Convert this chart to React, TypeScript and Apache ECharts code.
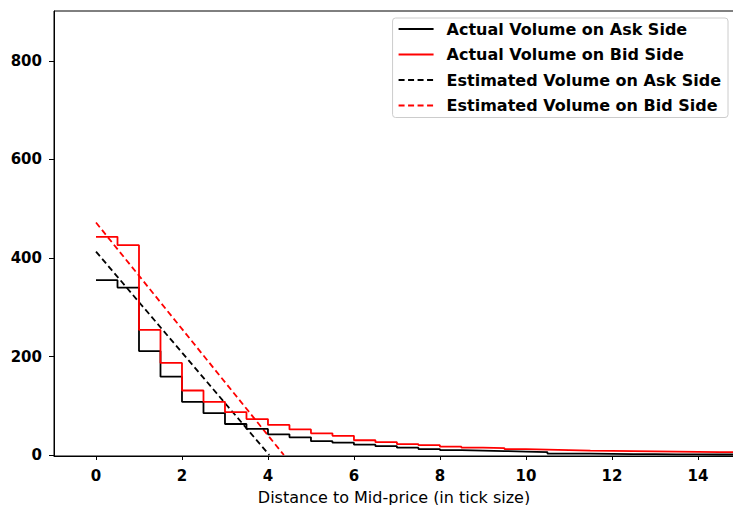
import React, { useEffect, useRef } from "react";
import * as echarts from "echarts";

const distances = [0, 0.5, 1, 1.5, 2, 2.5, 3, 3.5, 4, 4.5, 5, 5.5, 6, 6.5, 7, 7.5, 8, 8.5, 9, 9.5, 10, 10.5, 11, 11.5, 12, 12.5, 13, 13.5, 14, 14.5, 15];
const askActual = [355, 340, 211, 159, 108, 85, 63, 53, 42, 36, 28, 25, 21, 18, 15, 12, 10, 9, 8, 7, 6, 3, 3, 2.5, 2, 2, 1.5, 1.5, 1, 1, 1];
const bidActual = [443, 426, 254, 187, 131, 108, 87, 73, 61, 52, 44, 39, 30, 26, 22, 20, 17, 15, 14, 12, 11, 10, 9, 8.5, 8, 7.5, 7, 6.5, 6, 5.5, 5];
const askEstX = [0, 4.03];
const askEst = [413, 0];
const bidEstX = [0, 4.37];
const bidEst = [472, 0];
const xTicks = [0, 2, 4, 6, 8, 10, 12, 14];
const yTicks = [0, 200, 400, 600, 800];

const seriesNames = [
  "Actual Volume on Ask Side",
  "Actual Volume on Bid Side",
  "Estimated Volume on Ask Side",
  "Estimated Volume on Bid Side",
];

const FONT = "DejaVu Sans";

export default function App() {
  const ref = useRef<HTMLDivElement>(null);
  useEffect(() => {
    document.body.style.margin = "0";
    const chart = echarts.init(ref.current!, null, { renderer: "svg" });
    const pair = (xs: number[], ys: number[]) => xs.map((x, i) => [x, ys[i]]);
    chart.setOption({
      animation: false,
      backgroundColor: "#fff",
      grid: {
        left: 54,
        right: -1,
        top: 11,
        bottom: 49,
        show: true,
        borderColor: "#000",
        borderWidth: 1,
        backgroundColor: "transparent",
        containLabel: false,
        outerBoundsMode: "none",
      },
      xAxis: {
        type: "value",
        min: -0.977,
        max: 14.84,
        name: "Distance to Mid-price (in tick size)",
        nameLocation: "middle",
        nameGap: 33,
        nameTextStyle: { fontFamily: FONT, fontSize: 16, color: "#000" },
        axisLine: { show: true, onZero: false, lineStyle: { color: "#000", width: 1 } },
        axisTick: { show: true, inside: false, length: 4, lineStyle: { color: "#000" }, customValues: xTicks },
        axisLabel: {
          customValues: xTicks,
          fontFamily: FONT,
          fontWeight: "bold",
          fontSize: 15,
          color: "#000",
          margin: 12,
        },
        splitLine: { show: false },
      },
      yAxis: {
        type: "value",
        min: -2,
        max: 901.5,
        axisLine: { show: true, onZero: false, lineStyle: { color: "#000", width: 1 } },
        axisTick: { show: true, inside: false, length: 5, lineStyle: { color: "#000" }, customValues: yTicks },
        axisLabel: {
          customValues: yTicks,
          fontFamily: FONT,
          fontWeight: "bold",
          fontSize: 15,
          color: "#000",
          margin: 12,
        },
        splitLine: { show: false },
      },
      legend: {
        orient: "vertical",
        right: 5,
        top: 18,
        data: seriesNames,
        backgroundColor: "#fff",
        borderColor: "#ccc",
        borderWidth: 1,
        borderRadius: 3,
        padding: [3, 7, 4, 5],
        itemWidth: 35,
        itemHeight: 14,
        itemGap: 9.5,
        itemStyle: { opacity: 0 },
        textStyle: {
          fontFamily: FONT,
          fontWeight: "bold",
          fontSize: 16,
          lineHeight: 14,
          color: "#000",
          padding: [0, 0, 0, 8],
        },
      },
      series: [
        {
          name: seriesNames[0],
          type: "line",
          step: "end",
          symbol: "none",
          data: pair(distances, askActual),
          lineStyle: { color: "#000", width: 1.8 },
          itemStyle: { color: "#000" },
          z: 3,
        },
        {
          name: seriesNames[1],
          type: "line",
          step: "end",
          symbol: "none",
          data: pair(distances, bidActual),
          lineStyle: { color: "#ff0000", width: 1.8 },
          itemStyle: { color: "#ff0000" },
          z: 3,
        },
        {
          name: seriesNames[2],
          type: "line",
          symbol: "none",
          data: pair(askEstX, askEst),
          lineStyle: { color: "#000", width: 1.8, type: [6, 3.5] },
          itemStyle: { color: "#000" },
          z: 2,
        },
        {
          name: seriesNames[3],
          type: "line",
          symbol: "none",
          data: pair(bidEstX, bidEst),
          lineStyle: { color: "#ff0000", width: 1.8, type: [6, 3.5] },
          itemStyle: { color: "#ff0000" },
          z: 2,
        },
      ],
    });
    return () => chart.dispose();
  }, []);
  return <div ref={ref} style={{ width: 733, height: 505 }} />;
}
